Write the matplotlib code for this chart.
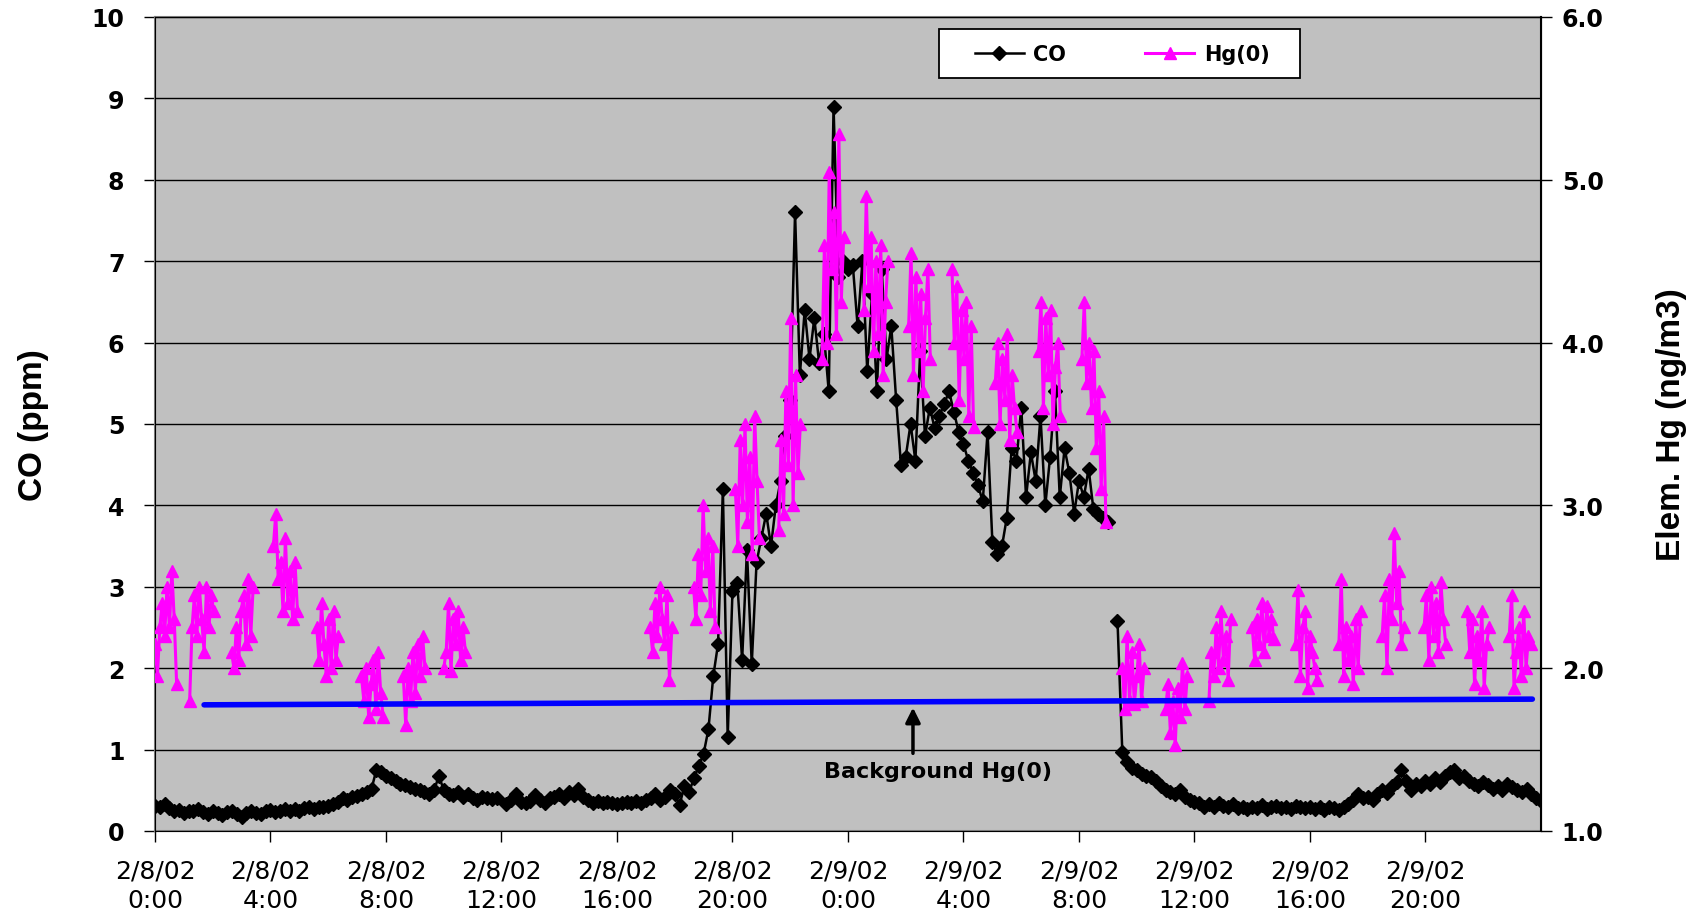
import numpy as np
import matplotlib.pyplot as plt
from matplotlib.patches import Rectangle

plt.rcParams['font.family'] = ['Liberation Sans', 'DejaVu Sans']

# CO (ppm), one reading every 10 min from 2/8/02 0:00 (one row per hour)
nan = np.nan
co_step = 1 / 6
co_ppm = [
    0.31, 0.30, 0.33, 0.28, 0.24, 0.26,
    0.22, 0.25, 0.24, 0.27, 0.23, 0.21,
    0.24, 0.22, 0.20, 0.23, 0.25, 0.21,
    0.17, 0.22, 0.24, 0.22, 0.21, 0.24,
    0.26, 0.23, 0.25, 0.27, 0.24, 0.27,
    0.25, 0.28, 0.30, 0.27, 0.30, 0.29,
    0.31, 0.33, 0.36, 0.40, 0.38, 0.42,
    0.43, 0.45, 0.48, 0.52, 0.75, 0.72,
    0.68, 0.65, 0.62, 0.58, 0.56, 0.54,
    0.52, 0.50, 0.48, 0.46, 0.50, 0.68,
    0.50, 0.46, 0.44, 0.48, 0.42, 0.45,
    0.40, 0.38, 0.42, 0.41, 0.39, 0.40,
    nan, 0.33, 0.38, 0.45, 0.36, 0.34,
    0.37, 0.44, 0.38, 0.35, 0.40, 0.42,
    0.45, 0.40, 0.48, 0.44, 0.52, 0.42,
    0.38, 0.35, 0.37, 0.34, 0.36, 0.35,
    0.33, 0.35, 0.36, 0.34, 0.37, 0.35,
    0.38, 0.40, 0.45, 0.38, 0.42, 0.50,
    0.45, 0.32, 0.55, 0.48, 0.65, 0.80,
    0.95, 1.25, 1.90, 2.30, 4.20, 1.15,
    2.95, 3.05, 2.10, 3.45, 2.05, 3.30,
    3.60, 3.90, 3.50, 4.00, 4.30, 4.85,
    5.30, 7.60, 5.60, 6.40, 5.80, 6.30,
    5.75, 6.10, 5.40, 8.90, 6.80, 7.00,
    6.90, 6.95, 6.20, 7.00, 5.65, 6.60,
    5.40, 6.90, 5.80, 6.20, 5.30, 4.50,
    4.60, 5.00, 4.55, 5.90, 4.85, 5.20,
    4.95, 5.10, 5.25, 5.40, 5.15, 4.90,
    4.75, 4.55, 4.40, 4.25, 4.05, 4.90,
    3.55, 3.40, 3.50, 3.85, 4.70, 4.55,
    5.20, 4.10, 4.65, 4.30, 5.10, 4.00,
    4.60, 5.40, 4.10, 4.70, 4.40, 3.90,
    4.30, 4.10, 4.45, 3.95, 3.90, 3.85,
    3.80, nan, 2.58, 0.97, 0.85, 0.78,
    0.75, 0.70, 0.68, 0.66, 0.62, 0.55,
    0.50, 0.48, 0.45, 0.50, 0.42, 0.38,
    0.36, 0.35, 0.30, 0.33, 0.30, 0.34,
    0.31, 0.29, 0.33, 0.28, 0.30, 0.27,
    0.30, 0.28, 0.32, 0.27, 0.29, 0.31,
    0.28, 0.30, 0.27, 0.31, 0.29, 0.28,
    0.30, 0.27, 0.29, 0.26, 0.30, 0.28,
    0.26, 0.30, 0.33, 0.38, 0.45, 0.40,
    0.42, 0.38, 0.45, 0.50, 0.47, 0.55,
    0.60, 0.75, 0.62, 0.50, 0.58, 0.55,
    0.62, 0.58, 0.65, 0.60, 0.68, 0.72,
    0.75, 0.65, 0.68, 0.62, 0.58, 0.55,
    0.60, 0.56, 0.52, 0.55, 0.50, 0.58,
    0.54, 0.50, 0.48, 0.52, 0.45, 0.40,
    0.37,
]

# Hg(0) (ng/m3): bursts of 5-min readings, start hour of each burst
hg_step = 1 / 12
hg_starts = [0.0, 1.2, 2.65, 4.1, 5.6, 7.15, 8.6, 10.0,
             17.15, 18.65, 20.1, 21.6, 23.1, 24.55, 26.1, 27.6, 29.1, 30.6, 32.1,
             33.5, 35.0, 36.5, 38.0, 39.5, 41.0, 42.5, 43.95, 45.45, 46.9]
hg_bursts = [
    [2.15, 1.95, 2.25, 2.40, 2.20, 2.50, 2.25, 2.60, 2.30, 1.90],
    [1.80, 2.25, 2.45, 2.20, 2.50, 2.30, 2.10, 2.50, 2.25, 2.45, 2.35],
    [2.10, 2.00, 2.25, 2.05, 2.35, 2.45, 2.15, 2.55, 2.20, 2.50],
    [2.75, 2.95, 2.55, 2.65, 2.35, 2.80, 2.40, 2.60, 2.30, 2.65, 2.35],
    [2.25, 2.05, 2.40, 2.15, 1.95, 2.30, 2.00, 2.35, 2.05, 2.20],
    [1.95, 1.80, 2.00, 1.70, 1.90, 2.05, 1.75, 2.10, 1.85, 1.70],
    [1.95, 1.65, 2.00, 1.80, 2.10, 1.85, 2.15, 1.95, 2.20, 2.00],
    [2.00, 2.10, 2.40, 1.98, 2.30, 2.15, 2.35, 2.05, 2.25, 2.10],
    [2.25, 2.10, 2.40, 2.20, 2.50, 2.30, 2.15, 2.45, 1.93, 2.25],
    [2.50, 2.30, 2.70, 2.45, 3.00, 2.60, 2.80, 2.35, 2.75, 2.25],
    [3.10, 2.75, 3.40, 3.00, 3.50, 2.90, 3.30, 2.70, 3.55, 3.15, 2.80],
    [2.85, 3.40, 2.95, 3.70, 3.25, 4.15, 3.00, 3.80, 3.20, 3.50],
    [3.90, 4.60, 4.00, 5.05, 4.45, 4.80, 4.05, 5.28, 4.25, 4.65],
    [4.20, 4.90, 4.35, 4.65, 3.95, 4.50, 4.05, 4.60, 3.80, 4.25, 4.50],
    [4.10, 4.55, 3.80, 4.40, 3.95, 4.30, 3.70, 4.15, 4.45, 3.90],
    [4.45, 4.00, 4.35, 3.65, 4.20, 3.90, 4.25, 3.55, 4.10, 3.48],
    [3.75, 4.00, 3.50, 3.90, 3.65, 4.05, 3.40, 3.80, 3.60, 3.45],
    [3.95, 4.25, 3.60, 4.15, 3.80, 4.20, 3.50, 3.85, 4.00, 3.55],
    [3.90, 4.25, 3.75, 4.00, 3.60, 3.95, 3.35, 3.70, 3.10, 3.55, 2.90],
    [2.00, 1.75, 2.20, 1.80, 2.10, 1.78, 1.95, 2.15, 1.80, 2.00],
    [1.75, 1.90, 1.60, 1.80, 1.53, 1.88, 1.70, 2.03, 1.75, 1.95],
    [1.80, 2.10, 1.95, 2.25, 2.00, 2.35, 2.05, 2.20, 1.93, 2.30],
    [2.25, 2.05, 2.30, 2.15, 2.40, 2.10, 2.38, 2.20, 2.30, 2.18],
    [2.15, 2.48, 1.95, 2.25, 2.35, 1.88, 2.20, 2.10, 2.00, 1.93],
    [2.15, 2.55, 1.95, 2.25, 2.05, 2.20, 1.90, 2.30, 2.00, 2.35],
    [2.20, 2.45, 2.00, 2.55, 2.30, 2.83, 2.40, 2.60, 2.15, 2.25],
    [2.25, 2.45, 2.05, 2.50, 2.20, 2.40, 2.10, 2.53, 2.30, 2.15],
    [2.35, 2.10, 2.30, 1.90, 2.20, 2.05, 2.35, 1.88, 2.15, 2.25],
    [2.20, 2.45, 1.88, 2.10, 2.25, 1.95, 2.35, 2.00, 2.20, 2.15],
]

# background Hg(0) line (hours, ng/m3)
bg_hours = [1.7, 47.7]
bg_hg = [1.775, 1.81]

tick_hours = [0, 4, 8, 12, 16, 20, 24, 28, 32, 36, 40, 44]
tick_labels = ["2/8/02\n0:00", "2/8/02\n4:00", "2/8/02\n8:00", "2/8/02\n12:00",
               "2/8/02\n16:00", "2/8/02\n20:00", "2/9/02\n0:00", "2/9/02\n4:00",
               "2/9/02\n8:00", "2/9/02\n12:00", "2/9/02\n16:00", "2/9/02\n20:00"]

co_hours = np.arange(len(co_ppm)) * co_step
hg_t, hg_v = [], []
for t0, vals in zip(hg_starts, hg_bursts):
    hg_t += [t0 + i * hg_step for i in range(len(vals))] + [nan]
    hg_v += vals + [nan]

W, H = 1699, 912
fig = plt.figure(figsize=(W / 100, H / 100), dpi=100)
ax = fig.add_axes([155 / W, 1 - 832 / H, 1386 / W, 814 / H])
ax.set_facecolor('#c0c0c0')
ax2 = ax.twinx()

co_line, = ax.plot(co_hours, co_ppm, color='black', lw=1.8, marker='D', ms=7.5,
                   label='CO', zorder=3)
hg_line, = ax2.plot(hg_t, hg_v, color='#ff00ff', lw=2.2, marker='^', ms=8,
                    label='Hg(0)', zorder=3)
ax2.plot(bg_hours, bg_hg, color='#0000ff', lw=4, solid_capstyle='round', zorder=5)

ax.set_xlim(0, 48)
ax.set_ylim(0, 10)
ax2.set_ylim(1, 6)
ax.set_yticks(range(0, 11))
ax2.set_yticks(range(1, 7))
ax2.set_yticklabels(['%.1f' % v for v in range(1, 7)])
ax.yaxis.grid(True, color='black', lw=1)
ax.set_axisbelow(True)
ax.set_xticks(tick_hours)
ax.set_xticklabels(tick_labels, fontsize=18, linespacing=1.3, family='DejaVu Sans')

for lab in ax.get_yticklabels() + ax2.get_yticklabels():
    lab.set_family('DejaVu Sans')
    lab.set_fontweight('bold')
    lab.set_fontsize(17)
ax.tick_params(axis='y', direction='out', length=8, width=1, pad=14)
ax2.tick_params(axis='y', direction='out', length=8, width=1, pad=7)
ax.tick_params(axis='x', direction='out', length=8, width=1, pad=12)

for sp in ['left', 'bottom', 'top']:
    ax.spines[sp].set_color('#808080')
    ax.spines[sp].set_linewidth(1.5)
ax2.spines['right'].set_color('black')
ax2.spines['right'].set_linewidth(1.5)

ax.set_ylabel('CO (ppm)', fontsize=24, fontweight='bold', labelpad=31)
ax2.set_ylabel('Elem. Hg (ng/m3)', fontsize=24, fontweight='bold', labelpad=38)

ax.annotate('', xy=(26.25, 1.55), xytext=(26.25, 0.92),
            arrowprops=dict(arrowstyle='-|>', lw=2.5, color='black', mutation_scale=22))
ax.text(27.1, 0.74, 'Background Hg(0)', ha='center', va='center', fontsize=16,
        fontweight='bold', family='DejaVu Sans')

# legend box drawn as a figure patch, entries placed inside it
fig.patches.append(Rectangle((939 / W, 1 - 79 / H), 361 / W, 49 / H,
                             transform=fig.transFigure, facecolor='white',
                             edgecolor='black', lw=1.3, zorder=10))
leg = fig.legend(handles=[co_line, hg_line], loc='center left', ncol=2,
                 bbox_to_anchor=(975 / W, 1 - 55 / H),
                 prop={'weight': 'bold', 'size': 15, 'family': 'DejaVu Sans'},
                 frameon=False, handlelength=2.35, columnspacing=3.8,
                 borderpad=0, handletextpad=0.45, borderaxespad=0)
leg.set_zorder(11)

fig.savefig('out.png', dpi=100)
